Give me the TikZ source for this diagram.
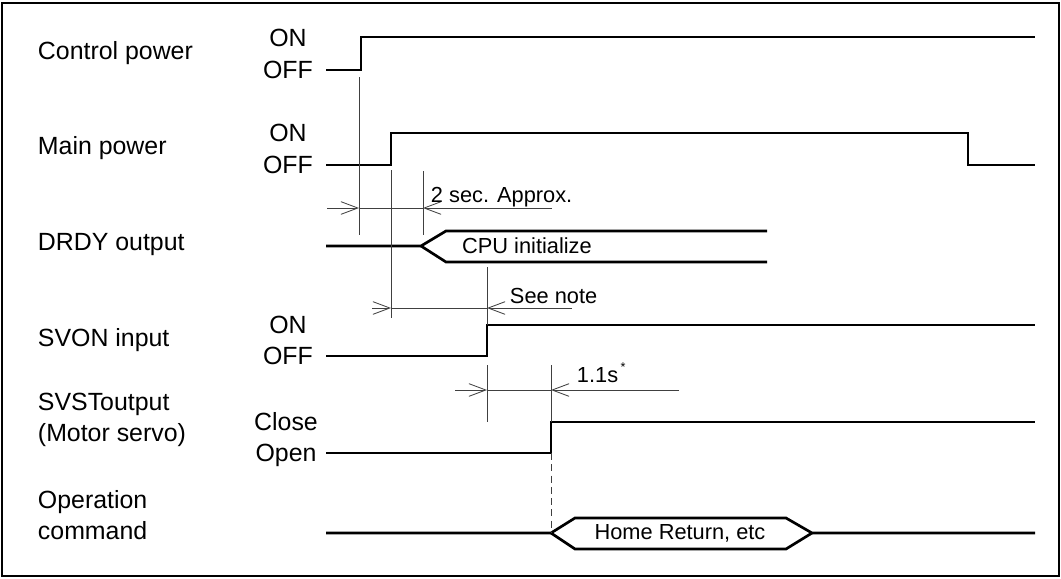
\documentclass[tikz,border=0pt]{standalone}
\usepackage{fontspec}
\setmainfont{Liberation Sans}
\usetikzlibrary{arrows.meta,positioning,calc}

\begin{document}
\begin{tikzpicture}[x=0.025cm,y=-0.025cm,
sigline/.style={line width=1.9pt, line join=miter},
guide/.style={line width=0.6pt, draw=black!75},
barb/.style={guide, -{Straight Barb[length=12pt,width=9pt,line width=0.6pt]}},
signame/.style={anchor=west, align=left, font=\fontsize{17.7}{22}\selectfont},
level/.style={font=\fontsize{17.7}{20}\selectfont},
note/.style={font=\fontsize{15.5}{18}\selectfont}
]
\useasboundingbox (0,0) rectangle (1061,579);
\draw[line width=1.1pt] (2,3) rectangle (1059,576);

% signal names and levels
\node[signame] (ctrl) at (33,53) {Control power};
\node[level] (ctrlon) at (288,38) {ON};
\node[level] (ctrloff) at (288,70) {OFF};
\node[signame] (main) at (33,148) {Main power};
\node[level] (mainon) at (288,133) {ON};
\node[level] (mainoff) at (288,165) {OFF};
\node[signame] (drdy) at (33,245) {DRDY output};
\node[signame] (svon) at (33,340) {SVON input};
\node[level] (svonon) at (288,325) {ON};
\node[level] (svonoff) at (288,356) {OFF};
\node[signame] (svst) at (33,420) {SVSToutput\\(Motor servo)};
\node[level] (svstclose) at (286,422) {Close};
\node[level] (svstopen) at (286,455) {Open};
\node[signame] (opcmd) at (33,515) {Operation\\command};

% waveforms
\draw[sigline] (326,70) -- (361,70) -- (361,37) -- (1035,37);
\draw[sigline] (326,165) -- (391,165) -- (391,133) -- (968,133) -- (968,165) -- (1035,165);
\draw[sigline] (326,246) -- (421,246) -- (446,231) -- (767,231);
\draw[sigline] (421,246) -- (446,262) -- (767,262);
\node[note] (cpu) at (527,246) {CPU initialize};
\draw[sigline] (326,356) -- (487,356) -- (487,325) -- (1035,325);
\draw[sigline] (326,453) -- (551,453) -- (551,422) -- (1035,422);
\draw[sigline] (326,533) -- (551,533) -- (575,518) -- (786,518) -- (812,533) -- (1035,533);
\draw[sigline] (551,533) -- (575,549) -- (786,549) -- (812,533);
\node[note] (home) at (680,533) {Home Return, etc};

% timing guides
\draw[guide] (359,77) -- (359,235);
\draw[guide] (391,170) -- (391,318);
\draw[guide] (423,171) -- (423,235);
\draw[guide] (487,267) -- (487,325);
\draw[guide] (487,365) -- (487,422);
\draw[guide] (551,365) -- (551,422);
\draw[guide, dashed, dash pattern=on 5pt off 3pt] (551,453) -- (551,533);

% intervals
\draw[guide] (359,208) -- (423,208);
\draw[barb] (327,208) -- (359,208);
\draw[barb] (552,208) -- (423,208);
\node[note, anchor=base west] (approx) at (426,202) {2 sec. Approx.};
\draw[guide] (391,308) -- (487,308);
\draw[barb] (372,308) -- (391,308);
\draw[barb] (572,308) -- (487,308);
\node[note, anchor=base west] (seenote) at (505,303) {See note};
\draw[guide] (487,390) -- (551,390);
\draw[barb] (455,390) -- (487,390);
\draw[barb] (679,390) -- (551,390);
\node[note, anchor=base west] (onesec) at (572,382) {1.1s};
\node[font=\fontsize{9}{10}\selectfont] (star) at (623,367) {*};
\end{tikzpicture}
\end{document}
